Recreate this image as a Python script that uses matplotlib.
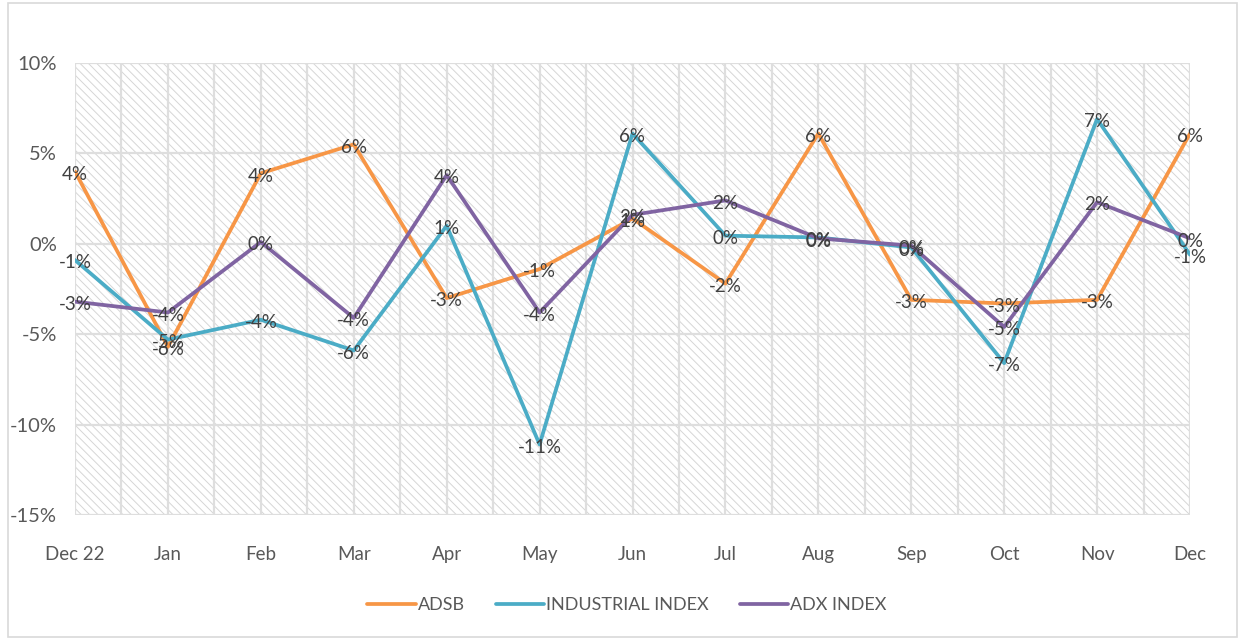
import numpy as np
import matplotlib.pyplot as plt
from matplotlib.patches import Rectangle
from matplotlib.ticker import FuncFormatter

plt.rcParams['font.family'] = ['Lato', 'DejaVu Sans']
plt.rcParams['hatch.linewidth'] = 0.7
plt.rcParams['hatch.color'] = '#d6d6d6'

months = ['Dec 22', 'Jan', 'Feb', 'Mar', 'Apr', 'May', 'Jun', 'Jul', 'Aug', 'Sep', 'Oct', 'Nov', 'Dec']
adsb = [4.0, -5.7, 3.9, 5.5, -3.0, -1.4, 1.4, -2.2, 6.1, -3.1, -3.3, -3.1, 6.1]
industrial = [-0.9, -5.3, -4.2, -5.9, 1.0, -11.1, 6.1, 0.45, 0.35, -0.2, -6.6, 6.9, -0.6]
adx = [-3.2, -3.8, 0.1, -4.1, 3.8, -3.8, 1.6, 2.4, 0.3, -0.1, -4.6, 2.3, 0.3]

series = [('ADSB', adsb, '#F79646'),
          ('INDUSTRIAL INDEX', industrial, '#4BACC6'),
          ('ADX INDEX', adx, '#8064A2')]

fig = plt.figure(figsize=(12.39, 6.4), dpi=100)
fig.patches.append(Rectangle((8 / 1239, 3 / 640), 1229 / 1239, 634 / 640,
                             transform=fig.transFigure, fill=False,
                             edgecolor='#d9d9d9', linewidth=1.2))
ax = fig.add_axes([75 / 1239, 1 - 515 / 640, 1115 / 1239, 452 / 640])

ax.add_patch(Rectangle((0, 0), 1, 1, transform=ax.transAxes, facecolor='white',
                       edgecolor='#d6d6d6', hatch='\\\\\\\\', linewidth=0, zorder=0))

x = np.arange(len(months))
ax.set_xlim(0, len(months) - 1)
ax.set_ylim(-15, 10)

for v in np.arange(0, len(months) - 0.5, 0.5):
    ax.axvline(v, color='#dedede', linewidth=1.6, zorder=1)
for v in range(-15, 11, 5):
    ax.axhline(v, color='#dedede', linewidth=1.6, zorder=1)

for name, vals, col in series:
    ax.plot(x, vals, color=col, linewidth=2.7, label=name, zorder=3, solid_capstyle='round')
for name, vals, col in series:
    for xi, v in zip(x, vals):
        ax.text(xi, v - 0.15, '%d%%' % round(v), ha='center', va='center',
                fontsize=13.5, color='#404040', zorder=4)

ax.set_xticks(x)
ax.set_xticklabels(months)
ax.set_yticks(range(-15, 11, 5))
ax.yaxis.set_major_formatter(FuncFormatter(lambda v, p: '%d%%' % v))
ax.tick_params(axis='x', length=0, labelsize=13.5, colors='#595959', pad=22)
ax.tick_params(axis='y', length=0, labelsize=14.5, colors='#595959', pad=13)
for s in ax.spines.values():
    s.set_visible(False)

leg = ax.legend(loc='center', bbox_to_anchor=(0.495, -0.2), ncol=3, frameon=False,
                fontsize=13, handlelength=2.7, columnspacing=1.7, handletextpad=0.1)
for t in leg.get_texts():
    t.set_color('#595959')

fig.savefig('out.png', dpi=100)
